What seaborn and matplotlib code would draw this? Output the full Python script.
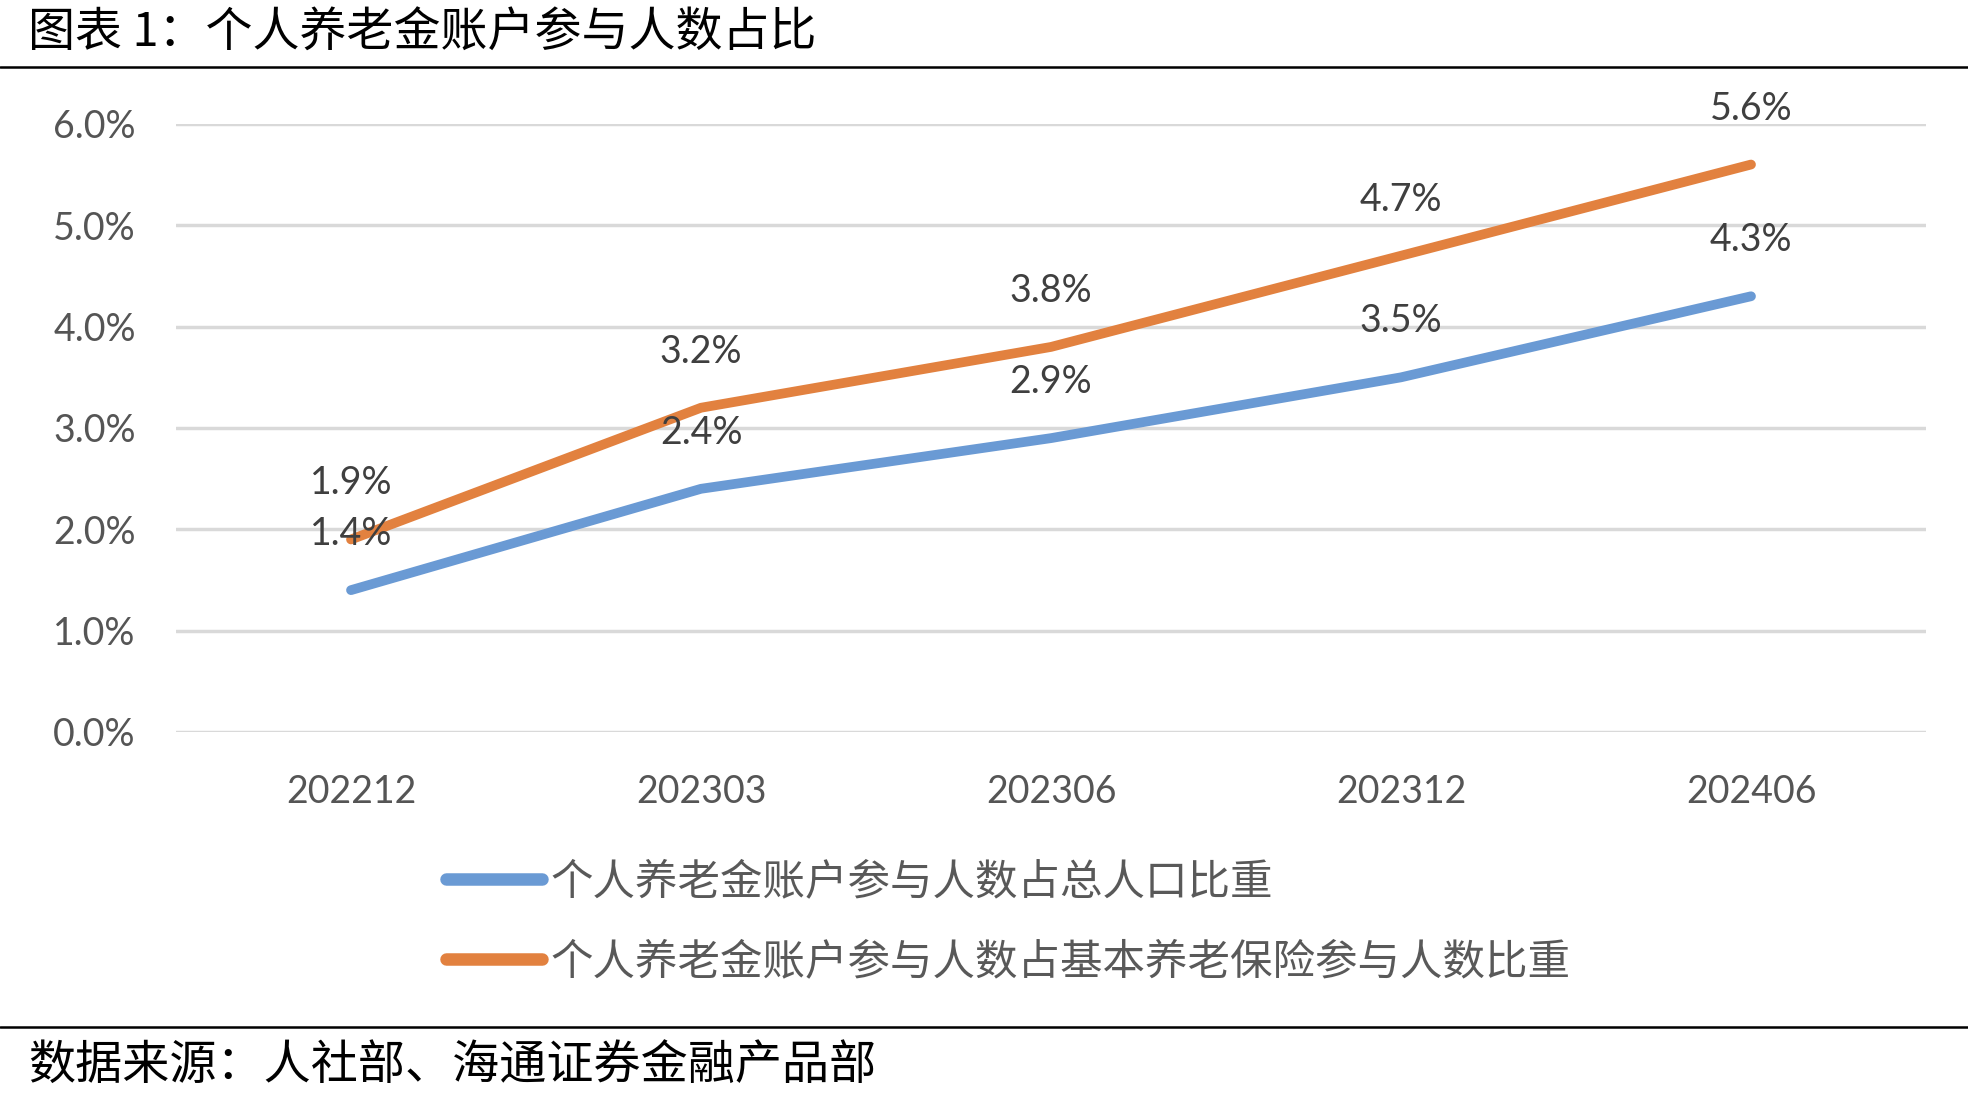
import numpy as np
import pandas as pd
import seaborn as sns
import matplotlib.pyplot as plt
from matplotlib.lines import Line2D

# data
periods = ['202212', '202303', '202306', '202312', '202406']
share_population = [1.4, 2.4, 2.9, 3.5, 4.3]
share_basic_insurance = [1.9, 3.2, 3.8, 4.7, 5.6]
series_names = ['个人养老金账户参与人数占总人口比重',
                '个人养老金账户参与人数占基本养老保险参与人数比重']
yticks = [0.0, 1.0, 2.0, 3.0, 4.0, 5.0, 6.0]

df = pd.DataFrame({
    'period': periods * 2,
    'value': share_population + share_basic_insurance,
    'series': [series_names[0]] * len(periods) + [series_names[1]] * len(periods),
})

sns.set_style('white')
plt.rcParams['font.family'] = ['Lato', 'Noto Sans CJK SC', 'DejaVu Sans']

colors = ['#6A9AD4', '#E2813F']
W, H = 1968, 1096
fig = plt.figure(figsize=(W / 100, H / 100), dpi=100)
ax = fig.add_axes([176 / W, (H - 732) / H, 1750 / W, (732 - 124) / H])

sns.lineplot(data=df, x='period', y='value', hue='series', palette=colors,
             linewidth=7, ax=ax, legend=False, sort=False)
for ln in ax.lines:
    ln.set_solid_capstyle('round')
    ln.set_zorder(3)

ax.set_xlim(-0.5, len(periods) - 0.5)
ax.set_ylim(0, 6)
ax.set_yticks(yticks)
ax.set_yticklabels([f'{v:.1f}%' for v in yticks])
ax.yaxis.grid(True, color='#D9D9D9', linewidth=2.5)
ax.set_axisbelow(True)
for s in ax.spines.values():
    s.set_visible(False)
ax.tick_params(axis='y', length=0, pad=29, labelsize=27, labelcolor='#555555')
ax.tick_params(axis='x', length=0, pad=30, labelsize=27, labelcolor='#555555')
ax.set_xlabel('')
ax.set_ylabel('')

# data labels above each point
for vals in [share_population, share_basic_insurance]:
    for i, v in enumerate(vals):
        ax.annotate(f'{v:.1f}%', (i, v), xytext=(0, 56), textcoords='offset pixels',
                    ha='center', va='center', fontsize=27, color='#3F3F3F',
                    annotation_clip=False, zorder=5)

# legend
handles = [Line2D([0], [0], color=c, linewidth=9, solid_capstyle='round') for c in colors]
fig.legend(handles, series_names, loc='upper left',
           bbox_to_anchor=(446 / W, (H - 860) / H), frameon=False,
           prop={'family': ['Noto Sans CJK SC'], 'size': 30.6},
           labelcolor='#595959', handlelength=2.25, handletextpad=0.2,
           labelspacing=0.85, borderpad=0, borderaxespad=0)

# title, rules and source
fig.text(28 / W, (H - 33) / H, '图表 1：个人养老金账户参与人数占比',
         family=['Noto Sans CJK SC'], fontsize=33.8, fontweight='medium',
         color='black', va='center', ha='left')
fig.add_artist(Line2D([0, 1], [(H - 67) / H] * 2, color='black', linewidth=1.8))
fig.add_artist(Line2D([0, 1], [(H - 1027) / H] * 2, color='black', linewidth=1.8))
fig.text(28 / W, (H - 1066) / H, '数据来源：人社部、海通证券金融产品部',
         family=['Noto Sans CJK SC'], fontsize=33.9, fontweight='medium',
         color='black', va='center', ha='left')

fig.savefig('out.png', dpi=100)
